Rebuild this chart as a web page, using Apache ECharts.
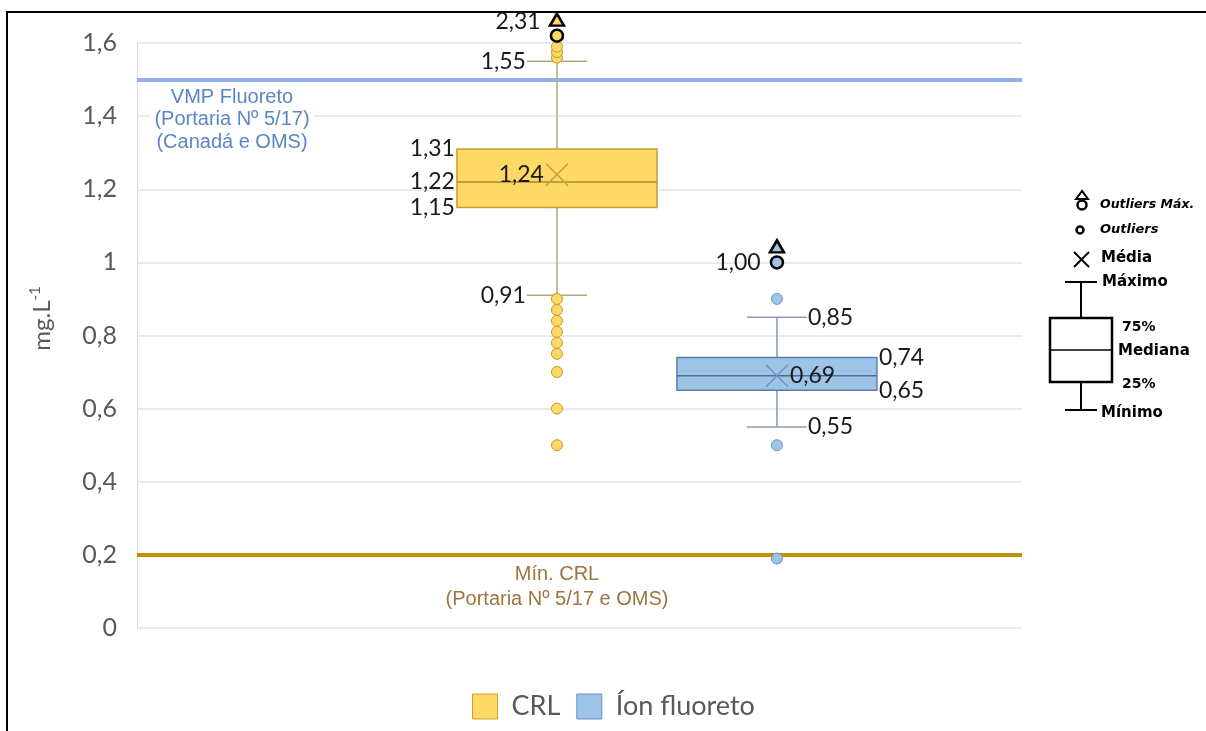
<!DOCTYPE html>
<html>
<head>
<meta charset="utf-8">
<script src="https://cdn.jsdelivr.net/npm/echarts@6/dist/echarts.min.js"></script>
<style>
  html, body { margin: 0; padding: 0; background: #fff; }
  #chart { width: 1206px; height: 731px; }
</style>
</head>
<body>
<div id="chart"></div>
<script>
// data
const categories = ['CRL', 'Íon fluoreto'];
const xPos = [1, 2];
const whiskerLow = [0.91, 0.55];
const q1 = [1.15, 0.65];
const median = [1.22, 0.69];
const q3 = [1.31, 0.74];
const whiskerHigh = [1.55, 0.85];
const mean = [1.24, 0.69];
const crlOutliers = [0.50, 0.60, 0.70, 0.75, 0.78, 0.81, 0.84, 0.87, 0.90, 1.56, 1.575, 1.59];
const ionOutliers = [0.19, 0.50, 0.90];
const outliers = [crlOutliers, ionOutliers];
// max outlier: where it is drawn (top of scale) and its real value
const maxOutlierShown = [1.62, 1.00];
const maxOutlierValue = [2.31, 1.00];
const vmpLine = 1.5;
const minCrlLine = 0.2;

// looks
const look = [
    { fill: '#ffd966', border: '#c3a032', median: '#a88a2e', whisker: '#b5a878', cross: '#c8a540',
      dot: '#ffd966', dotBorder: '#c09a2a', side: 'left', medianLabel: true, legendBorder: '#c9a227' },
    { fill: '#9dc3e6', border: '#5a7fae', median: '#4d6e96', whisker: '#8a9bb3', cross: '#6a93c7',
      dot: '#9dc3e6', dotBorder: '#6f93c0', side: 'right', medianLabel: false, legendBorder: '#6a8fc0' }
];

const fmt = v => v.toFixed(2).replace('.', ',');

function renderBox(params, api)
{
    const i = api.value(7);
    const x = api.value(0);
    const c = v => api.coord([x, v]);
    const pLo = c(api.value(1)), pQ1 = c(api.value(2)), pMed = c(api.value(3));
    const pQ3 = c(api.value(4)), pHi = c(api.value(5)), pMean = c(api.value(6));
    const cx = pMed[0];
    const s = look[i];
    const half = 100, cap = 30, cr = 11;
    const sgn = s.side === 'left' ? -1 : 1;
    const align = s.side === 'left' ? 'right' : 'left';
    const txt = (tx, ty, v) => ({
        type: 'text', x: tx, y: ty, z2: 10,
        style: { text: fmt(v), fill: '#1a1a1a', fontFamily: 'Lato', fontSize: 23, align: align, verticalAlign: 'middle' }
    });
    const line = (x1, y1, x2, y2, color, w) => ({
        type: 'line', shape: { x1: x1, y1: y1, x2: x2, y2: y2 }, style: { stroke: color, lineWidth: w }
    });
    let children = [
        line(cx, pHi[1], cx, pQ3[1], s.whisker, 1.5),
        line(cx, pQ1[1], cx, pLo[1], s.whisker, 1.5),
        line(cx - cap, pHi[1], cx + cap, pHi[1], s.whisker, 1.5),
        line(cx - cap, pLo[1], cx + cap, pLo[1], s.whisker, 1.5),
        {
            type: 'rect',
            shape: { x: cx - half, y: pQ3[1], width: half * 2, height: pQ1[1] - pQ3[1] },
            style: { fill: s.fill, stroke: s.border, lineWidth: 1.5 }
        },
        line(cx - half, pMed[1], cx + half, pMed[1], s.median, 1.5),
        line(pMean[0] - cr, pMean[1] - cr, pMean[0] + cr, pMean[1] + cr, s.cross, 1.5),
        line(pMean[0] - cr, pMean[1] + cr, pMean[0] + cr, pMean[1] - cr, s.cross, 1.5),
        txt(cx + sgn * (cap + 1), pHi[1], api.value(5)),
        txt(cx + sgn * (cap + 1), pLo[1], api.value(1)),
        txt(cx + sgn * (half + 2), pQ3[1], api.value(4)),
        txt(cx + sgn * (half + 2), pQ1[1], api.value(2)),
        txt(pMean[0] + sgn * (cr + 2), pMean[1], api.value(6))
    ];
    if (s.medianLabel) children.push(txt(cx + sgn * (half + 2), pMed[1], api.value(3)));
    return { type: 'group', children: children };
}

let series = [];
categories.forEach((name, i) => {
    let box = {
        type: 'custom',
        name: name,
        z: 3,
        renderItem: renderBox,
        data: [[xPos[i], whiskerLow[i], q1[i], median[i], q3[i], whiskerHigh[i], mean[i], i]]
    };
    if (i === 0) {
        box.markLine = {
            silent: true,
            symbol: 'none',
            label: { show: false },
            z: 1,
            data: [
                { yAxis: vmpLine, lineStyle: { color: '#8eb4e3', width: 4, type: 'solid' } },
                { yAxis: minCrlLine, lineStyle: { color: '#bf9000', width: 4, type: 'solid' } }
            ]
        };
    }
    series.push(box);
    series.push({
        type: 'scatter',
        name: name,
        z: 4,
        clip: false,
        symbolSize: 11,
        itemStyle: { color: look[i].dot, borderColor: look[i].dotBorder, borderWidth: 1, opacity: 1 },
        data: outliers[i].map(v => [xPos[i], v])
    });
    // max outlier: circle with triangle above
    series.push({
        type: 'scatter',
        name: name,
        z: 5,
        clip: false,
        symbol: 'triangle',
        symbolSize: [14, 12],
        symbolOffset: [0, -16],
        itemStyle: { color: look[i].dot, borderColor: '#000', borderWidth: 2.5, opacity: 1 },
        data: [[xPos[i], maxOutlierShown[i]]]
    });
    series.push({
        type: 'scatter',
        name: name,
        z: 5,
        clip: false,
        symbolSize: 12,
        itemStyle: { color: look[i].dot, borderColor: '#000', borderWidth: 2.5, opacity: 1 },
        label: {
            show: true,
            position: 'left',
            distance: 9,
            offset: i === 0 ? [0, -14] : [0, 0],
            formatter: () => fmt(maxOutlierValue[i]),
            color: '#1a1a1a',
            fontFamily: 'Lato',
            fontSize: 23
        },
        data: [[xPos[i], maxOutlierShown[i]]]
    });
});

const keyFont = '"DejaVu Sans"';
const keyText = (x, y, text, italic, size) => ({
    type: 'text', x: x, y: y,
    style: { text: text, fill: '#000', fontFamily: keyFont, fontWeight: 'bold',
             fontStyle: italic ? 'italic' : 'normal', fontSize: size, verticalAlign: 'middle' }
});
const keyLine = (x1, y1, x2, y2, w) => ({
    type: 'line', shape: { x1: x1, y1: y1, x2: x2, y2: y2 }, style: { stroke: '#000', lineWidth: w }
});

let option = {
    animation: false,
    backgroundColor: '#fff',
    grid: { left: 137, top: 43, width: 885, height: 585 },
    xAxis: { type: 'value', min: -0.909, max: 3.114, show: false },
    yAxis: {
        type: 'value',
        min: 0,
        max: 1.6,
        interval: 0.2,
        name: 'mg.L{sup|-1}',
        nameLocation: 'middle',
        nameGap: 80,
        nameTextStyle: {
            color: '#595959', fontFamily: 'Lato', fontSize: 24, padding: [0, 0, 0, 34],
            rich: { sup: { color: '#595959', fontFamily: 'Lato', fontSize: 15, padding: [0, 0, 14, 0] } }
        },
        axisLine: { show: true, onZero: false, lineStyle: { color: '#d9d9d9', width: 1 } },
        axisTick: { show: false },
        splitLine: { lineStyle: { color: '#e3e3e3', width: 1.5 } },
        axisLabel: {
            color: '#595959', fontFamily: 'Lato', fontSize: 25, margin: 20,
            formatter: v => String(Math.round(v * 10) / 10).replace('.', ',')
        }
    },
    legend: {
        left: 467,
        top: 688,
        icon: 'rect',
        itemWidth: 25,
        itemHeight: 25,
        itemGap: 16,
        textStyle: { color: '#595959', fontFamily: 'Lato', fontSize: 27, padding: [0, 0, 0, 9] },
        data: categories.map((name, i) => ({
            name: name,
            itemStyle: { color: look[i].fill, borderColor: look[i].legendBorder, borderWidth: 1 }
        }))
    },
    graphic: [
        // frame
        { type: 'rect', z: -1, shape: { x: 7, y: 12, width: 1300, height: 800 },
          style: { fill: 'none', stroke: '#000', lineWidth: 2 } },
        // reference line captions
        { type: 'text', x: 232, y: 84, z: 10,
          style: { text: 'VMP Fluoreto\n(Portaria Nº 5/17)\n(Canadá e OMS)', fill: '#5a86c5',
                   fontFamily: '"Liberation Sans"', fontSize: 20, lineHeight: 22.5, align: 'center',
                   backgroundColor: '#fff', padding: [2, 4] } },
        { type: 'text', x: 557, y: 562, z: 10,
          style: { text: 'Mín. CRL\n(Portaria Nº 5/17 e OMS)', fill: '#9e7440',
                   fontFamily: '"Liberation Sans"', fontSize: 20, lineHeight: 25, align: 'center' } },
        // key
        { type: 'polygon', shape: { points: [[1082, 191], [1076, 199], [1088, 199]] },
          style: { fill: '#fff', stroke: '#000', lineWidth: 2 } },
        { type: 'circle', shape: { cx: 1082, cy: 205, r: 4.5 }, style: { fill: '#fff', stroke: '#000', lineWidth: 2.5 } },
        keyText(1100, 205, 'Outliers Máx.', true, 12.5),
        { type: 'circle', shape: { cx: 1080, cy: 230, r: 3.5 }, style: { fill: '#fff', stroke: '#000', lineWidth: 2.5 } },
        keyText(1100, 230, 'Outliers', true, 13),
        keyLine(1074, 252, 1089, 267, 2),
        keyLine(1089, 252, 1074, 267, 2),
        keyText(1101, 258, 'Média', false, 15),
        keyLine(1065, 282, 1097, 282, 2),
        keyLine(1081, 282, 1081, 318, 2),
        { type: 'rect', shape: { x: 1050, y: 318, width: 62, height: 64 },
          style: { fill: '#fff', stroke: '#000', lineWidth: 2.5 } },
        keyLine(1050, 350, 1112, 350, 1.5),
        keyLine(1081, 382, 1081, 410, 2),
        keyLine(1065, 410, 1097, 410, 2),
        keyText(1102, 282, 'Máximo', false, 15),
        keyText(1122, 327, '75%', false, 14),
        keyText(1118, 351, 'Mediana', false, 15),
        keyText(1122, 384, '25%', false, 14),
        keyText(1101, 413, 'Mínimo', false, 15)
    ],
    series: series
};

var myChart = echarts.init(document.getElementById('chart'));
myChart.setOption(option);
</script>
</body>
</html>
